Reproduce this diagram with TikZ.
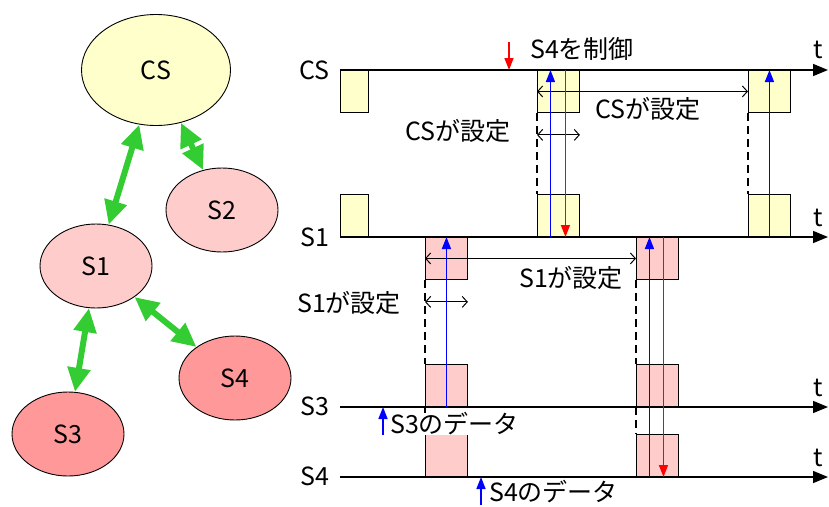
\documentclass[tikz,border=0pt]{standalone}
\usepackage{fontspec}
\setmainfont{Noto Sans CJK JP}
\usetikzlibrary{shapes.geometric,arrows.meta}
\definecolor{csyellow}{RGB}{255,255,204}
\definecolor{slavepink}{RGB}{255,204,204}
\definecolor{slavered}{RGB}{255,153,153}
\definecolor{linkgreen}{RGB}{51,204,51}
\begin{document}
\begin{tikzpicture}[
      x=1pt, y=-1pt,
      font=\fontsize{25}{28}\selectfont,
      station/.style={draw=black, ellipse, line width=.9pt, inner sep=0pt,
                      minimum width=112pt, minimum height=84pt},
      link/.style={draw=linkgreen, line width=6pt,
                   {Triangle[length=24pt,width=22pt]}-{Triangle[length=24pt,width=22pt]}},
      slot/.style={draw=black, line width=.9pt, anchor=north west, inner sep=0pt,
                   minimum width=42pt, minimum height=42pt},
      axis/.style={draw=black, line width=1.5pt, -{Triangle[length=15pt,width=12pt]}},
      sig/.style={draw=blue, line width=1.6pt, -{Triangle[length=12pt,width=9pt]}},
      ctl/.style={draw=red, line width=1.6pt, -{Triangle[length=12pt,width=9pt]}},
      span/.style={draw=black, line width=1pt,
                   {Straight Barb[length=5pt,width=11pt]}-{Straight Barb[length=5pt,width=11pt]}},
      guide/.style={draw=black, line width=1.2pt, dash pattern=on 8pt off 5pt}
    ]
    \useasboundingbox (0,0) rectangle (829,506);

    % Network of stations.
    \node[station, fill=csyellow, minimum width=149pt, minimum height=111pt] (cs) at (156,70) {CS};
    \node[station, fill=slavepink] (s2) at (222,210) {S2};
    \node[station, fill=slavepink] (s1) at (96,266) {S1};
    \node[station, fill=slavered] (s4) at (235,378) {S4};
    \node[station, fill=slavered] (s3) at (68,434) {S3};
    \draw[link] (cs) -- (s1);
    \draw[link] (cs) -- (s2);
    \draw[link] (s1) -- (s3);
    \draw[link] (s1) -- (s4);

    % Time slots.
    \node[slot, fill=csyellow, minimum width=28pt] (csy1) at (340,70) {};
    \node[slot, fill=csyellow] (csy2) at (537,70) {};
    \node[slot, fill=csyellow] (csy3) at (748,70) {};
    \node[slot, fill=csyellow, minimum width=28pt, anchor=south west] (s1y1) at (340,237) {};
    \node[slot, fill=csyellow, anchor=south west] (s1y2) at (537,237) {};
    \node[slot, fill=csyellow, anchor=south west] (s1y3) at (748,237) {};
    \node[slot, fill=slavepink] (s1p1) at (425,237) {};
    \node[slot, fill=slavepink] (s1p2) at (636,237) {};
    \node[slot, fill=slavepink, anchor=south west] (s3p1) at (425,407) {};
    \node[slot, fill=slavepink, anchor=south west] (s3p2) at (636,407) {};
    \node[slot, fill=slavepink, anchor=south west] (s4p1) at (425,477) {};
    \node[slot, fill=slavepink, anchor=south west] (s4p2) at (636,477) {};

    % Time axes.
    \node[anchor=east] (lcs) at (333,70) {CS};
    \node[anchor=east] (ls1) at (333,237) {S1};
    \node[anchor=east] (ls3) at (333,406) {S3};
    \node[anchor=east] (ls4) at (333,476) {S4};
    \coordinate (csa) at (340,70);
    \coordinate (s1a) at (340,237);
    \coordinate (s3a) at (340,407);
    \coordinate (s4a) at (340,477);
    \draw[axis] (csa) -- ++(488,0);
    \draw[axis] (s1a) -- ++(488,0);
    \draw[axis] (s3a) -- ++(488,0);
    \draw[axis] (s4a) -- ++(488,0);
    \node (tcs) at (818,50) {t};
    \node (ts1) at (818,218) {t};
    \node (ts3) at (818,388) {t};
    \node (ts4) at (818,458) {t};

    % Slot boundaries.
    \draw[guide] (csy2.south west) -- (s1y2.north west);
    \draw[guide] (csy3.south west) -- (s1y3.north west);
    \draw[guide] (s1p1.south west) -- (s3p1.north west);
    \draw[guide] (s3p1.south west) -- (s4p1.north west);
    \draw[guide] (s1p2.south west) -- (s3p2.north west);
    \draw[guide] (s3p2.south west) -- (s4p2.north west);

    % Setting periods.
    \draw[span] (csy2.west) -- (csy3.west);
    \draw[span] ([yshift=-22pt]csy2.south west) -- ([yshift=-22pt]csy2.south east);
    \draw[span] (s1p1.west) -- (s1p2.west);
    \draw[span] ([yshift=-22pt]s1p1.south west) -- ([yshift=-22pt]s1p1.south east);
    \node (setcs) at (458,131) {CSが設定};
    \node (setcslong) at (648,109) {CSが設定};
    \node (sets1) at (349,303) {S1が設定};
    \node (sets1long) at (571,278) {S1が設定};

    % Data and control transfers.
    \draw[sig] ([xshift=-8pt]s1y2.south) -- ([xshift=-8pt]csy2.north);
    \draw[ctl] ([xshift=7pt]csy2.north) -- ([xshift=7pt]s1y2.south);
    \draw[sig] (s1y3.south) -- (csy3.north);
    \draw[sig] (s3p1.south) -- (s1p1.north);
    \draw[sig] ([xshift=-8pt]s4p2.south) -- ([xshift=-8pt]s1p2.north);
    \draw[ctl] ([xshift=6pt]s1p2.north) -- ([xshift=6pt]s4p2.south);

    % Events.
    \node (ctrl) at (582,49) {S4を制御};
    \coordinate (ctrlpt) at (509,42);
    \draw[ctl] (ctrlpt) -- (ctrlpt |- csa);
    \node[anchor=west, fill=white, inner sep=0pt] (d3) at (390,424) {S3のデータ};
    \coordinate (d3pt) at (383,435);
    \draw[sig] (d3pt) -- (d3pt |- s3a);
    \node[anchor=west, inner sep=0pt] (d4) at (489,492) {S4のデータ};
    \coordinate (d4pt) at (481,505);
    \draw[sig] (d4pt) -- (d4pt |- s4a);
  \end{tikzpicture}
\end{document}
